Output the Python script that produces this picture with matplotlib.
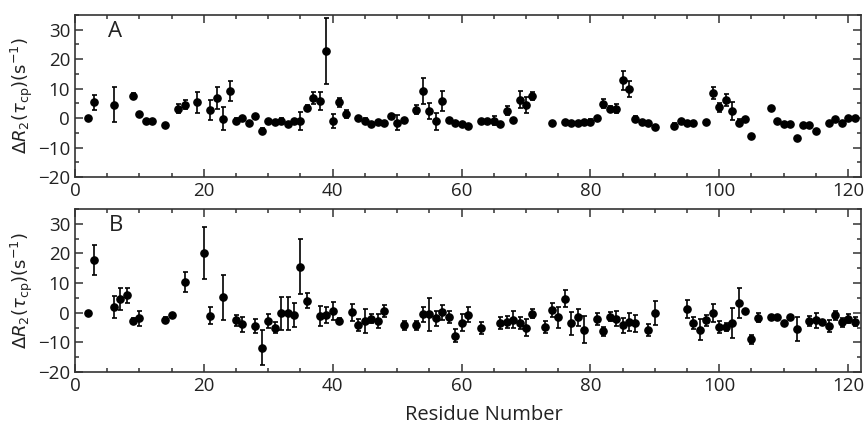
import numpy as np
import matplotlib
matplotlib.use('Agg')
import matplotlib.pyplot as plt
from matplotlib.ticker import MultipleLocator

plt.rcParams['font.family'] = ['Open Sans', 'DejaVu Sans']
plt.rcParams['mathtext.fontset'] = 'dejavusans'

# Panel A data (residue, value, error)
res_a = [2, 3, 6, 9, 10, 11, 12, 14, 16, 17, 19, 21, 22, 23, 24, 25, 26, 27, 28, 29,
         30, 31, 32, 33, 34, 35, 36, 37, 38, 39, 40, 41, 42, 44, 45, 46, 47, 48, 49, 50,
         51, 53, 54, 55, 56, 57, 58, 59, 60, 61, 63, 64, 65, 66, 67, 68, 69, 70, 71, 74,
         76, 77, 78, 79, 80, 81, 82, 83, 84, 85, 86, 87, 88, 89, 90, 93, 94, 95, 96, 98,
         99, 100, 101, 102, 103, 104, 105, 108, 109, 110, 111, 112, 113, 114, 115, 117,
         118, 119, 120, 121]
val_a = [0, 5.3, 4.6, 7.5, 1.4, -1.0, -1.1, -2.4, 3.2, 4.5, 5.4, 2.8, 6.9, -0.2, 9.2, -1.0, 0.1, -1.6, 0.7, -4.4,
         -1.0, -1.4, -1.0, -2.0, -1.1, -1.0, 3.4, 6.7, 5.8, 22.8, -1.0, 5.4, 1.4, 0.2, -1.0, -2.0, -1.2, -1.7, 0.7, -1.5,
         -0.8, 2.9, 9.2, 2.4, -1.1, 5.8, -0.8, -1.8, -2.0, -2.6, -1.0, -1.1, -0.9, -1.9, 2.5, -0.7, 6.3, 4.6, 7.5, -1.7,
         -1.4, -1.7, -1.8, -1.2, -1.4, -0.1, 4.9, 3.2, 3.2, 12.9, 9.9, -0.3, -1.4, -1.5, -3.0, -2.6, -1.1, -1.5, -1.8, -1.4,
         8.5, 3.6, 6.2, 2.4, -1.6, -0.3, -6.1, 3.3, -0.9, -2.0, -1.9, -6.7, -2.2, -2.2, -4.5, -1.6,
         -0.2, -1.5, 0.0, 0.0]
err_a = [0.4, 2.4, 6.0, 1.0, 0.4, 0.4, 0.4, 0.4, 1.5, 1.5, 3.5, 3.5, 3.8, 4.0, 3.5, 1.0, 0.4, 0.4, 0.4, 1.0,
         0.4, 0.4, 1.0, 0.4, 0.4, 3.0, 1.0, 2.0, 3.0, 11.3, 2.5, 1.5, 1.2, 0.4, 1.0, 0.4, 0.4, 0.4, 0.4, 2.5,
         0.4, 1.5, 4.3, 2.8, 3.0, 3.4, 0.4, 0.4, 0.4, 0.4, 0.4, 0.4, 1.5, 0.4, 1.5, 0.4, 3.0, 2.7, 1.5, 0.4,
         0.4, 0.4, 0.4, 0.4, 1.0, 0.4, 1.5, 1.0, 1.5, 3.2, 2.8, 1.0, 0.4, 0.4, 0.4, 1.0, 0.4, 0.4, 0.4, 0.4,
         2.0, 1.5, 2.0, 3.0, 1.2, 0.4, 0.4, 0.4, 0.4, 0.4, 0.4, 0.4, 0.4, 0.4, 0.4, 0.4,
         0.4, 0.4, 0.4, 0.4]

# Panel B data
res_b = [2, 3, 6, 7, 8, 9, 10, 14, 15, 17, 20, 21, 23, 25, 26, 28, 29, 30, 31, 32,
         33, 34, 35, 36, 38, 39, 40, 41, 43, 44, 45, 46, 47, 48, 51, 53, 54, 55, 56, 57,
         58, 59, 60, 61, 63, 66, 67, 68, 69, 70, 71, 73, 74, 75, 76, 77, 78, 79, 81, 82,
         83, 84, 85, 86, 87, 89, 90, 95, 96, 97, 98, 99, 100, 101, 102, 103, 104, 105, 106, 108,
         109, 110, 111, 112, 114, 115, 116, 117, 118, 119, 120, 121]
val_b = [0, 17.7, 2.0, 4.6, 5.9, -2.7, -1.9, -2.5, -0.8, 10.4, 20.2, -1.0, 5.2, -2.6, -3.9, -4.5, -11.8, -2.8, -5.0, -0.2,
         -0.2, -0.7, 15.6, 4.0, -1.1, -0.7, 0.5, -2.7, 0.1, -4.0, -2.8, -2.0, -2.8, 0.7, -4.3, -4.3, -0.5, -0.5, -1.9, 0.1,
         -1.4, -7.8, -3.3, -0.7, -5.1, -3.5, -3.1, -2.3, -3.4, -5.0, -0.3, -4.8, 0.9, -1.6, 4.8, -3.6, -1.6, -5.7, -2.2, -6.3,
         -1.4, -2.0, -4.2, -3.2, -3.6, -5.9, -0.2, 1.2, -3.5, -5.7, -2.6, 0.0, -4.8, -4.8, -3.5, 3.2, 0.5, -8.9, -1.7, -1.6,
         -1.6, -3.3, -1.6, -5.4, -2.8, -2.5, -3.1, -4.5, -0.8, -3.2, -2.0, -3.1]
err_b = [0.4, 5.1, 3.8, 3.8, 2.5, 1.0, 2.5, 1.0, 0.4, 3.5, 8.8, 2.8, 7.7, 2.0, 2.5, 2.5, 6.0, 2.5, 2.0, 5.5,
         5.5, 4.0, 9.4, 2.5, 3.5, 2.8, 3.0, 1.0, 2.8, 2.0, 4.0, 1.5, 2.5, 2.0, 1.5, 1.5, 2.5, 5.5, 2.5, 2.5,
         2.0, 2.2, 3.0, 2.5, 2.0, 2.0, 2.0, 3.0, 2.0, 3.0, 1.5, 2.0, 2.5, 3.5, 3.0, 3.8, 3.0, 4.5, 2.0, 1.5,
         1.5, 2.5, 2.5, 3.0, 3.0, 2.0, 4.0, 3.0, 2.0, 3.5, 2.0, 3.0, 2.0, 1.5, 5.0, 5.0, 0.4, 1.5, 1.5, 0.4,
         0.4, 0.4, 0.4, 4.0, 1.8, 2.5, 0.4, 2.0, 1.5, 1.5, 1.5, 1.5]

fig = plt.figure(figsize=(8.66, 4.25), dpi=100)
ax_a = fig.add_axes([0.0866, 0.5835, 0.9076, 0.3812])
ax_b = fig.add_axes([0.0866, 0.1247, 0.9076, 0.3835])

ylabel = r'$\Delta R_2(\tau_{\rm cp})({\rm s}^{-1})$'

for ax, res, val, err, letter in [(ax_a, res_a, val_a, err_a, 'A'),
                                  (ax_b, res_b, val_b, err_b, 'B')]:
    ax.errorbar(res, val, yerr=err, fmt='o', color='black', ms=5.2,
                ecolor='black', elinewidth=1.2, capsize=1.8, capthick=1.2)
    ax.set_xlim(0, 122)
    ax.set_ylim(-20, 35)
    ax.xaxis.set_major_locator(MultipleLocator(20))
    ax.xaxis.set_minor_locator(MultipleLocator(5))
    ax.yaxis.set_major_locator(MultipleLocator(10))
    ax.yaxis.set_minor_locator(MultipleLocator(5))
    ax.tick_params(which='both', direction='in', top=True, right=True,
                   labelsize=13.5, color='#333333', labelcolor='#222222', width=1.1)
    ax.tick_params(which='major', length=6)
    ax.tick_params(which='minor', length=3)
    for s in ax.spines.values():
        s.set_linewidth(1.2)
        s.set_color('#333333')
    ax.set_ylabel(ylabel, fontsize=13, labelpad=2, color='#222222')
    ax.text(5.2, 29.5, letter, fontsize=16, ha='left', va='center', color='#222222')

ax_b.set_xlabel('Residue Number', fontsize=14.5, color='#222222')
ax_b.xaxis.set_label_coords(0.52, -0.2)

fig.savefig('out.png', dpi=100)
